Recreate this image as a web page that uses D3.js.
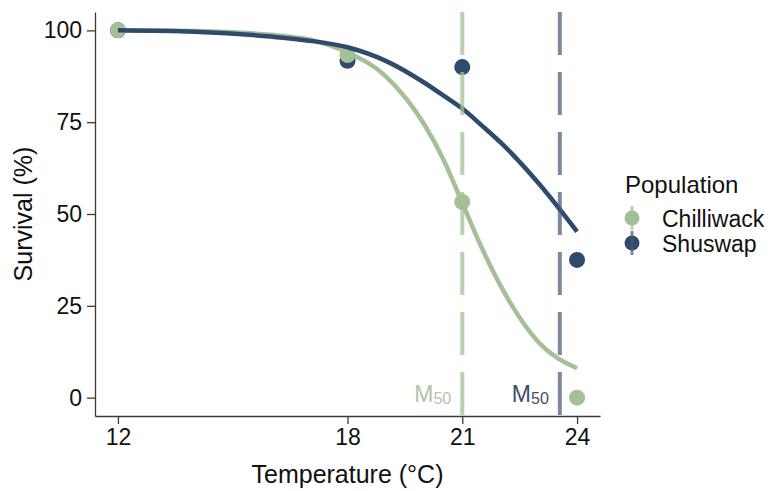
<!DOCTYPE html>
<html>
<head>
<meta charset="utf-8">
<script src="https://cdn.jsdelivr.net/npm/d3@7"></script>
<style>
  body { margin: 0; background: #fff; }
  svg { font-family: "Liberation Sans", Arial, sans-serif; }
</style>
</head>
<body>
<svg id="chart"></svg>
<script>
// observed survival (%) per temperature
var temps = [12, 18, 21, 24];
var chilliwack = [100, 93.3, 53.3, 0];
var shuswap = [100, 91.7, 90, 37.5];

// fitted curves
var fitTemps = [12, 14, 16, 17, 18, 19, 20, 20.5, 21, 21.5, 22, 23, 24];
var chilliwackFit = [100, 99.8, 98.8, 97.5, 94, 87.5, 74.5, 65, 53, 41, 30.5, 15, 8];
var shuswapFit = [100, 99.6, 98.3, 97.2, 95.4, 91.7, 85.8, 82.3, 78.7, 74.2, 69.5, 58.3, 45.2];

// M50 temperatures
var populations = ["Chilliwack", "Shuswap"];
var m50 = [21.0, 23.55];

var xTicks = [12, 18, 21, 24];
var yTicks = [0, 25, 50, 75, 100];

var green = "#a3c098", navy = "#2f4a6b";
var colors = [green, navy];

var width = 778, height = 491;
var svg = d3.select("#chart").attr("width", width).attr("height", height);

//panel
var pLeft = 95, pRight = 600, pTop = 12, pBottom = 416;
var x = d3.scaleLinear().domain([11.4, 24.6]).range([pLeft, pRight]);
var y = d3.scaleLinear().domain([-5, 105]).range([pBottom, pTop]);

//axes
var xAxis = svg.append("g")
  .attr("transform", "translate(0," + pBottom + ")")
  .call(d3.axisBottom(x).tickValues(xTicks).tickSize(8).tickPadding(5).tickSizeOuter(0));
var yAxis = svg.append("g")
  .attr("transform", "translate(" + pLeft + ",0)")
  .call(d3.axisLeft(y).tickValues(yTicks).tickSize(8).tickPadding(5).tickSizeOuter(0));
[xAxis, yAxis].forEach(function (a) {
  a.attr("font-size", null).attr("font-family", null);
  a.select(".domain").attr("stroke", "#3a3a3a").attr("stroke-width", 1.3);
  a.selectAll(".tick line").attr("stroke", "#3a3a3a").attr("stroke-width", 1.3);
  a.selectAll(".tick text").attr("fill", "#111").style("font-size", "23px");
});

svg.append("text")
  .attr("x", (pLeft + pRight) / 2).attr("y", 483)
  .attr("text-anchor", "middle").style("font-size", "25px").attr("fill", "#111")
  .text("Temperature (°C)");
svg.append("text")
  .attr("transform", "translate(32," + (pTop + pBottom) / 2 + ") rotate(-90)")
  .attr("text-anchor", "middle").style("font-size", "25px").attr("fill", "#111")
  .text("Survival (%)");

var vlineColors = ["rgba(163,192,152,0.75)", "rgba(70,86,115,0.7)"];
var labelColors = ["#b2c5a8", "#3e4e69"];

//points (Shuswap first, Chilliwack on top)
var pointSets = [shuswap, chilliwack];
var pointColors = [navy, green];
pointSets.forEach(function (vals, i) {
  svg.append("g").selectAll("circle")
    .data(temps)
    .enter()
    .append("circle")
    .attr("cx", function (d) { return x(d); })
    .attr("cy", function (d, j) { return y(vals[j]); })
    .attr("r", 8)
    .attr("fill", pointColors[i]);
});

//fitted curves
var line = d3.line()
  .x(function (d) { return x(d[0]); })
  .y(function (d) { return y(d[1]); })
  .curve(d3.curveMonotoneX);
[chilliwackFit, shuswapFit].forEach(function (vals, i) {
  svg.append("path")
    .datum(fitTemps.map(function (t, j) { return [t, vals[j]]; }))
    .attr("d", line)
    .attr("fill", "none")
    .attr("stroke", colors[i])
    .attr("stroke-width", 4.5);
});

//M50 dashed lines, drawn over the curves with transparency
populations.forEach(function (p, i) {
  svg.append("line")
    .attr("x1", x(m50[i])).attr("x2", x(m50[i]))
    .attr("y1", pTop).attr("y2", pBottom)
    .attr("stroke", vlineColors[i]).attr("stroke-width", 4)
    .attr("stroke-dasharray", "43,17");
  var t = svg.append("text")
    .attr("x", x(m50[i]) - 11).attr("y", 402)
    .attr("text-anchor", "end").attr("fill", labelColors[i])
    .style("font-size", "23px");
  t.append("tspan").text("M");
  t.append("tspan").attr("dy", 2).style("font-size", "16px").text("50");
});

//legend
var legend = svg.append("g");
legend.append("text")
  .attr("x", 625).attr("y", 193)
  .style("font-size", "24px").attr("fill", "#111")
  .text("Population");
populations.forEach(function (p, i) {
  var cy = 218 + i * 25;
  legend.append("circle")
    .attr("cx", 632).attr("cy", cy).attr("r", 7.5)
    .attr("fill", colors[i]);
  legend.append("line")
    .attr("x1", 632).attr("x2", 632)
    .attr("y1", cy - 12).attr("y2", cy + 12)
    .attr("stroke", vlineColors[i]).attr("stroke-width", 3);
  legend.append("text")
    .attr("x", 662).attr("y", cy + 9)
    .style("font-size", "23px").attr("fill", "#111")
    .text(p);
});
</script>
</body>
</html>
